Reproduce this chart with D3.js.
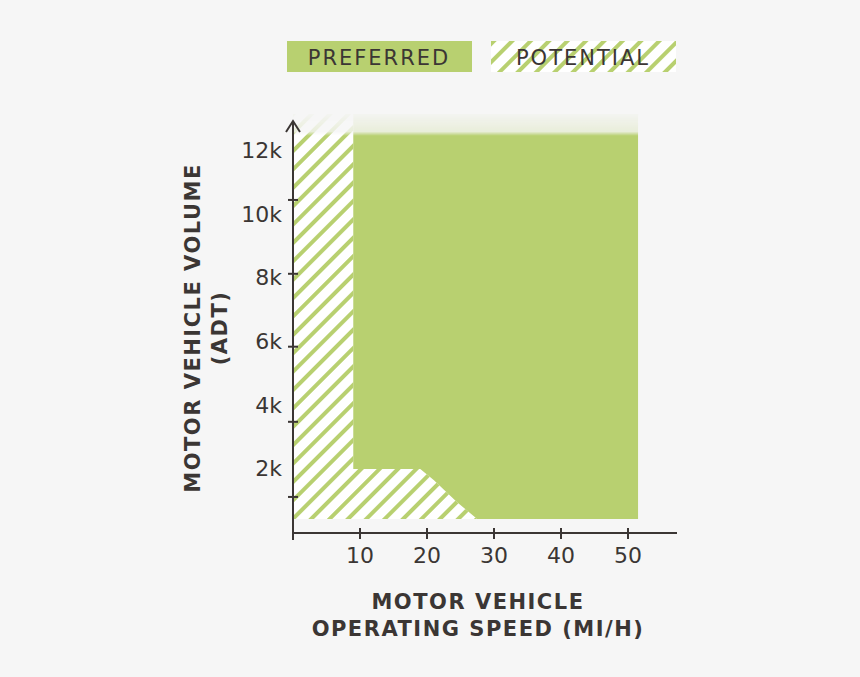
<!DOCTYPE html>
<html><head><meta charset="utf-8">
<script src="https://cdn.jsdelivr.net/npm/d3@7"></script>
<style>body{margin:0;background:#f6f6f6;font-family:"DejaVu Sans",sans-serif;}</style>
</head><body><svg></svg>
<script>
var labelVals = [2,4,6,8,10,12];
var tickVals = [1.07,3.43,5.79,8.08,10.4];
var xTickVals = [10,20,30,40,50];
var preferred = [[9,13.1],[51.5,13.1],[51.5,0.38],[27.5,0.38],[24.5,0.9],[21,1.6],[19,1.95],[9,1.95]];
var potential = [[0,13.1],[9,13.1],[9,1.95],[19,1.95],[21,1.6],[24.5,0.9],[27.5,0.38],[0,0.38]];
var legendItems = ["PREFERRED","POTENTIAL"];
var green = "#b8d070", ink = "#3b3634";

var svg = d3.select("svg").attr("width",860).attr("height",677);
var x = d3.scaleLinear().domain([0,10]).range([293,360]);
var y = d3.scaleLinear().domain([0,12]).range([531,149]);

var defs = svg.append("defs");
var pat = defs.append("pattern").attr("id","hatch").attr("patternUnits","userSpaceOnUse")
  .attr("width",13).attr("height",13).attr("patternTransform","rotate(45)");
pat.append("rect").attr("width",13).attr("height",13).attr("fill","#fff");
pat.append("rect").attr("width",4).attr("height",13).attr("fill",green);
var grad = defs.append("linearGradient").attr("id","fade").attr("x1",0).attr("y1",0).attr("x2",0).attr("y2",1);
grad.append("stop").attr("offset",0).attr("stop-color","#fff").attr("stop-opacity",0);
grad.append("stop").attr("offset",0.05).attr("stop-color","#fff").attr("stop-opacity",0.2);
grad.append("stop").attr("offset",0.06).attr("stop-color","#fff").attr("stop-opacity",1);
grad.append("stop").attr("offset",1).attr("stop-color","#fff").attr("stop-opacity",1);
defs.append("mask").attr("id","m").append("rect").attr("x",280).attr("y",110).attr("width",400).attr("height",430)
  .attr("fill","url(#fade)");

var line = d3.line().x(function(d){return x(d[0]);}).y(function(d){return y(d[1]);});
var g = svg.append("g").attr("mask","url(#m)");
g.append("path").attr("d",line(potential)+"Z").attr("fill","url(#hatch)");
g.append("path").attr("d",line(preferred)+"Z").attr("fill",green);

// axes
svg.append("line").attr("x1",293).attr("x2",677).attr("y1",533).attr("y2",533).attr("stroke",ink).attr("stroke-width",2);
svg.append("line").attr("x1",293).attr("x2",293).attr("y1",122).attr("y2",540).attr("stroke",ink).attr("stroke-width",2);
svg.append("path").attr("d","M286,132 L293,121 L300,132").attr("fill","none").attr("stroke",ink).attr("stroke-width",2);
svg.selectAll(".yt").data(tickVals).enter().append("line")
  .attr("x1",288).attr("x2",298).attr("y1",function(d){return y(d);}).attr("y2",function(d){return y(d);})
  .attr("stroke",ink).attr("stroke-width",2);
svg.selectAll(".yl").data(labelVals).enter().append("text")
  .attr("x",282).attr("y",function(d){return y(d)+9;}).attr("text-anchor","end")
  .attr("font-size",22).attr("fill",ink).text(function(d){return d+"k";});
svg.selectAll(".xt").data(xTickVals).enter().append("line")
  .attr("x1",function(d){return x(d);}).attr("x2",function(d){return x(d);}).attr("y1",528).attr("y2",539)
  .attr("stroke",ink).attr("stroke-width",2);
svg.selectAll(".xl").data(xTickVals).enter().append("text")
  .attr("x",function(d){return x(d);}).attr("y",563).attr("text-anchor","middle")
  .attr("font-size",22).attr("fill",ink).text(function(d){return d;});

svg.append("text").attr("x",478).attr("y",609).attr("text-anchor","middle").attr("font-size",21)
  .attr("font-weight","bold").attr("letter-spacing",1.5).attr("fill",ink).text("MOTOR VEHICLE");
svg.append("text").attr("x",478).attr("y",636).attr("text-anchor","middle").attr("font-size",21)
  .attr("font-weight","bold").attr("letter-spacing",1.5).attr("fill",ink).text("OPERATING SPEED (MI/H)");
var yt = svg.append("g").attr("transform","translate(200,328) rotate(-90)");
yt.append("text").attr("text-anchor","middle").attr("font-size",21).attr("font-weight","bold")
  .attr("letter-spacing",1.5).attr("fill",ink).text("MOTOR VEHICLE VOLUME");
yt.append("text").attr("y",27).attr("text-anchor","middle").attr("font-size",21).attr("font-weight","bold")
  .attr("letter-spacing",1.5).attr("fill",ink).text("(ADT)");

// legend
var lg = svg.selectAll(".lg").data(legendItems).enter().append("g")
  .attr("transform",function(d,i){return "translate("+(287+i*204)+",41)";});
lg.append("rect").attr("width",185).attr("height",31)
  .attr("fill",function(d,i){return i==0?green:"url(#hatch)";});
lg.append("text").attr("x",92).attr("y",24).attr("text-anchor","middle").attr("font-size",21)
  .attr("letter-spacing",2).attr("fill",ink).text(function(d){return d;});
</script></body></html>
